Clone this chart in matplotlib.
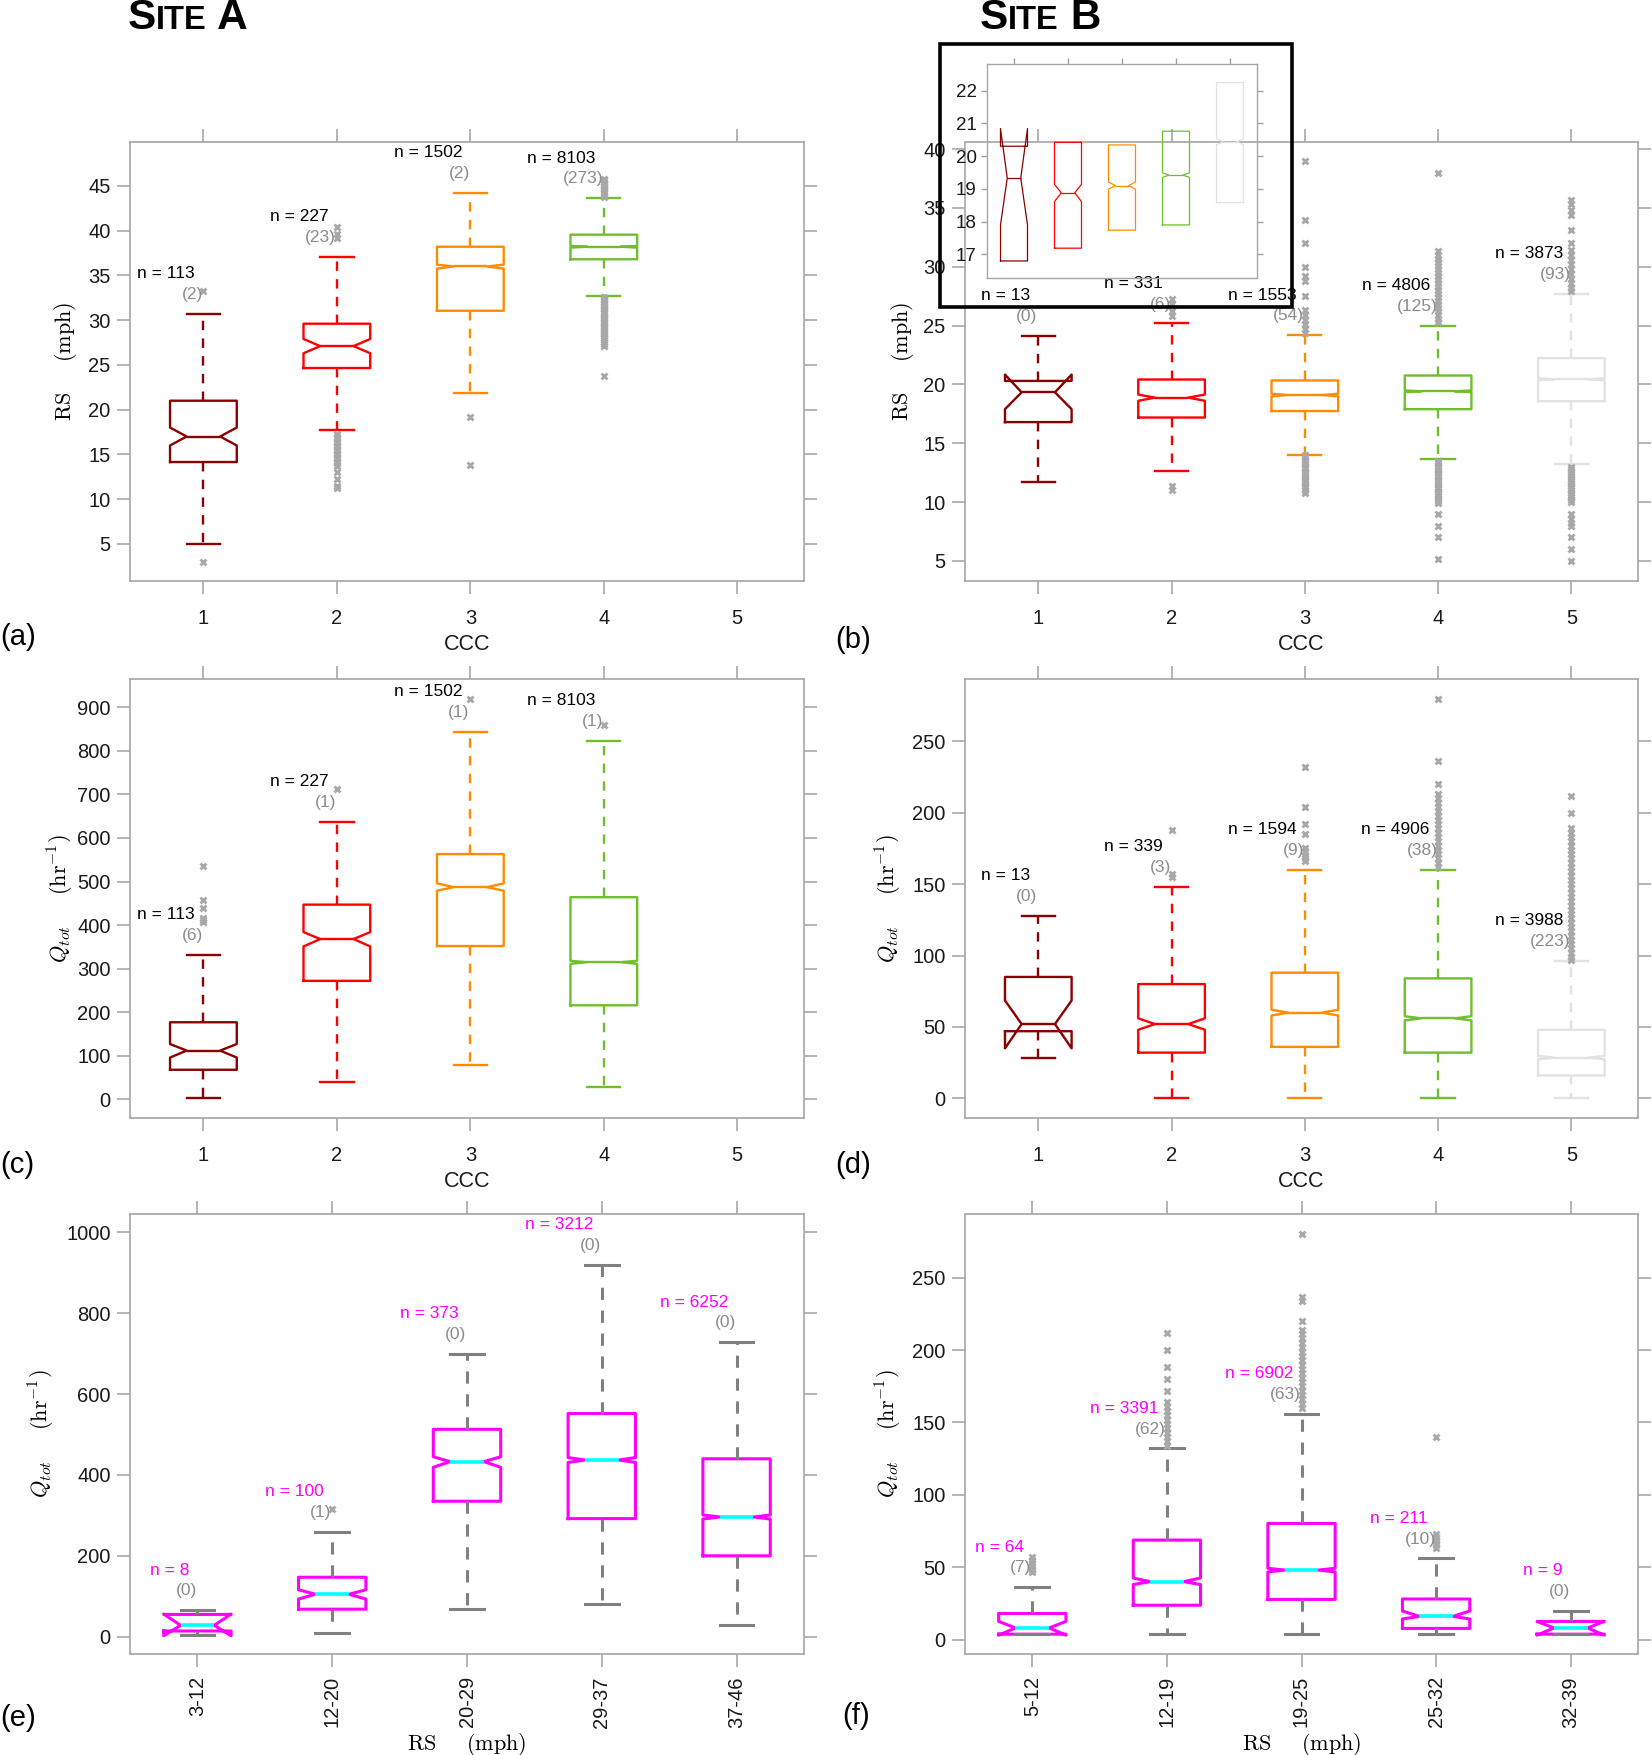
import matplotlib
matplotlib.use('Agg')
import matplotlib.pyplot as plt
from matplotlib.patches import Rectangle
from matplotlib.offsetbox import TextArea, HPacker, AnchoredOffsetbox

plt.rcParams['font.family'] = ['Liberation Sans', 'DejaVu Sans']
plt.rcParams['mathtext.fontset'] = 'cm'

ccc = [1, 2, 3, 4, 5]
ccc_colors = ['#8b0000', '#ff0000', '#ff8c00', '#6fbe2e', '#e2e2e2']

# (a) site A, RS by CCC
a_n = [113, 227, 1502, 8103]
a_nout = [2, 23, 2, 273]
a_whislo = [5.0, 17.7, 21.9, 32.7]
a_q1 = [14.15, 24.65, 31.05, 36.8]
a_cilo = [16.0, 26.3, 35.75, 38.1]
a_med = [17.0, 27.1, 36.0, 38.2]
a_cihi = [18.0, 27.9, 36.2, 38.3]
a_q3 = [21.0, 29.6, 38.2, 39.55]
a_whishi = [30.7, 37.05, 44.25, 43.6]
a_out = [
    [33.2, 3.0],
    [40.4, 39.6, 39.2, 17.3, 17.0, 16.7, 16.4, 16.1, 15.8, 15.5, 15.2, 14.9,
     14.6, 14.3, 14.0, 13.7, 13.0, 12.2, 11.5, 11.2],
    [19.2, 13.8],
    [45.8, 45.6, 45.4, 45.2, 45.0, 44.8, 44.6, 44.4, 44.2, 44.0, 43.8,
     32.6, 32.4, 32.2, 32.0, 31.8, 31.6, 31.4, 31.2, 31.0, 30.8, 30.6, 30.4,
     30.2, 30.0, 29.8, 29.6, 29.4, 29.2, 29.0, 28.8, 28.6, 28.4, 28.2, 28.0,
     27.8, 27.6, 27.3, 27.1, 23.8],
]

# (b) site B, RS by CCC (the inset zooms on the same boxes)
b_n = [13, 331, 1553, 4806, 3873]
b_nout = [0, 6, 54, 125, 93]
b_whislo = [11.7, 12.63, 14.03, 13.67, 13.2]
b_q1 = [16.8, 17.19, 17.74, 17.9, 18.58]
b_cilo = [17.9, 18.61, 18.99, 19.35, 20.35]
b_med = [19.33, 18.88, 19.1, 19.42, 20.44]
b_cihi = [20.84, 19.14, 19.21, 19.49, 20.53]
b_q3 = [20.3, 20.42, 20.34, 20.76, 22.24]
b_whishi = [24.1, 25.18, 24.17, 25.0, 27.7]
b_out = [
    [],
    [27.3, 26.8, 26.2, 25.8, 11.4, 11.0],
    [39.0, 34.0, 32.0, 30.0, 29.2, 28.8, 27.5, 26.3, 25.9, 25.5, 25.1, 24.7,
     24.4, 14.0, 13.8, 13.6, 13.4, 13.2, 13.0, 12.8, 12.6, 12.4, 12.2, 12.0,
     11.8, 11.6, 11.4, 11.2, 11.0, 10.8],
    [38.0, 31.3, 31.0, 30.7, 30.4, 30.1, 29.8, 29.5, 29.2, 28.9, 28.6, 28.3,
     28.0, 27.7, 27.4, 27.1, 26.8, 26.5, 26.2, 25.9, 25.6, 25.3, 13.5, 13.3,
     13.1, 12.9, 12.7, 12.5, 12.3, 12.1, 11.9, 11.7, 11.5, 11.3, 11.1, 10.9,
     10.7, 10.5, 10.3, 10.1, 9.9, 9.0, 8.0, 7.0, 5.2],
    [35.7, 35.3, 34.8, 34.4, 33.1, 32.0, 31.4, 31.0, 30.6, 30.2, 29.8, 29.4,
     29.0, 28.6, 28.2, 27.9, 13.0, 12.8, 12.6, 12.4, 12.2, 12.0, 11.8, 11.6,
     11.4, 11.2, 11.0, 10.8, 10.6, 10.4, 10.2, 10.0, 9.0, 8.6, 8.2, 8.0, 7.0,
     6.0, 5.0],
]

# (c) site A, Qtot by CCC
c_n = [113, 227, 1502, 8103]
c_nout = [6, 1, 1, 1]
c_whislo = [4, 40, 80, 28]
c_q1 = [68, 272, 352, 216]
c_cilo = [96, 351, 479, 311]
c_med = [112, 368, 487, 315]
c_cihi = [127, 384, 496, 318]
c_q3 = [177, 447, 563, 464]
c_whishi = [332, 636, 843, 823]
c_out = [[536, 458, 440, 416, 411, 406], [712], [920], [860]]

# (d) site B, Qtot by CCC
d_n = [13, 339, 1594, 4906, 3988]
d_nout = [0, 3, 9, 38, 223]
d_whislo = [28, 0, 0, 0, 0]
d_q1 = [47, 32, 36, 32, 16]
d_cilo = [35, 48, 58, 54.6, 27.3]
d_med = [52, 52, 60, 56, 28.5]
d_cihi = [68.5, 56, 62, 57.5, 29.7]
d_q3 = [85, 80, 88, 84, 48]
d_whishi = [128, 148, 160, 160, 96]
d_out = [
    [],
    [188, 157, 155],
    [232, 204, 192, 185, 175, 173, 170, 168, 166],
    [280, 236, 220, 213, 210, 207, 204, 201, 198, 195, 192, 189, 186, 183,
     180, 177, 174, 171, 168, 165, 162],
    [212, 200, 189, 186, 183, 180, 177, 174, 171, 168, 165, 162, 159, 156,
     153, 150, 147, 144, 141, 138, 135, 132, 129, 126, 123, 120, 117, 114,
     111, 108, 105, 102, 99, 97],
]

# (e) site A, Qtot by RS bin
e_bins = ['3-12', '12-20', '20-29', '29-37', '37-46']
e_n = [8, 100, 373, 3212, 6252]
e_nout = [0, 1, 0, 0, 0]
e_whislo = [5, 8, 68, 81, 29]
e_q1 = [14, 68, 335, 292, 200]
e_cilo = [2, 93, 419, 431, 291]
e_med = [28, 105, 433, 437, 296]
e_cihi = [56, 116, 445, 443, 301]
e_q3 = [55, 147, 513, 552, 440]
e_whishi = [65, 260, 700, 919, 728]
e_out = [[], [315], [], [], []]

# (f) site B, Qtot by RS bin
f_bins = ['5-12', '12-19', '19-25', '25-32', '32-39']
f_n = [64, 3391, 6902, 211, 9]
f_nout = [7, 62, 63, 10, 0]
f_whislo = [3.7, 3.7, 3.7, 3.7, 3.7]
f_q1 = [3.7, 23.7, 27.7, 7.7, 3.7]
f_cilo = [3.0, 38, 46.7, 14.2, 3.0]
f_med = [8, 40, 48, 16, 8]
f_cihi = [12.5, 42.5, 49.2, 19.7, 12.5]
f_q3 = [18, 68.7, 80.2, 28, 12.5]
f_whishi = [36, 132, 156, 56, 20]
f_out = [
    [57, 55, 53, 51, 49, 48, 47],
    [212, 200, 188, 180, 172, 164, 161, 158, 155, 152, 149, 146, 143, 140,
     137, 134],
    [280, 237, 234, 220, 214, 211, 208, 205, 202, 199, 196, 193, 190, 187,
     184, 181, 178, 175, 172, 169, 166, 163, 160],
    [140, 73, 71, 69, 67, 65, 63],
    [],
]


def make_stats(whislo, q1, cilo, med, cihi, q3, whishi, out):
    stats = []
    for i in range(len(med)):
        stats.append(dict(whislo=whislo[i], q1=q1[i], cilo=cilo[i], med=med[i],
                          cihi=cihi[i], q3=q3[i], whishi=whishi[i],
                          fliers=out[i]))
    return stats


def draw_boxes(ax, stats, colors, lw=1.7, med_color=None, line_color=None,
               whiskers=True):
    for i, s in enumerate(stats):
        c = colors[i]
        wc = line_color or c
        ax.bxp([s], positions=[i + 1], widths=0.5, capwidths=0.25,
               shownotches=True, manage_ticks=False,
               showcaps=whiskers, showfliers=whiskers,
               boxprops=dict(color=c, lw=lw),
               medianprops=dict(color=med_color or c, lw=lw + 0.4 if med_color else lw),
               whiskerprops=dict(color=wc, lw=lw, visible=whiskers,
                                 linestyle=(0, (4, 3.5))),
               capprops=dict(color=wc, lw=lw),
               flierprops=dict(marker='x', ms=4.5, mew=2, mec='#a8a8a8',
                               linestyle='none'))


def label_counts(ax, whishi, n, nout, ncolor='black'):
    for i in range(len(n)):
        ax.annotate('({})'.format(nout[i]), (i + 1, whishi[i]), xytext=(-0.5, 14),
                    textcoords='offset points', ha='right', va='center',
                    fontsize=12.5, color='#8c8c8c')
        ax.annotate('n = {}'.format(n[i]), (i + 1, whishi[i]), xytext=(-6, 29),
                    textcoords='offset points', ha='right', va='center',
                    fontsize=12.5, color=ncolor)


def style_axes(ax):
    for sp in ax.spines.values():
        sp.set_color('#a6a6a6')
        sp.set_linewidth(1.2)
    ax.tick_params(direction='out', length=9.5, width=1.1, color='#a0a0a0',
                   top=True, right=True, labelsize=14.5, labelcolor='#1a1a1a')
    ax.tick_params(axis='x', pad=11)
    ax.tick_params(axis='y', pad=4.5)


W, H = 1652, 1755
fig = plt.figure(figsize=(W / 100, H / 100), dpi=100)


def add_ax(x0, x1, y0, y1):
    return fig.add_axes([x0 / W, 1 - y1 / H, (x1 - x0) / W, (y1 - y0) / H])


ax_a = add_ax(130, 804, 142, 581)
ax_b = add_ax(965, 1638, 142, 581)
ax_c = add_ax(130, 804, 679, 1118)
ax_d = add_ax(965, 1638, 679, 1118)
ax_e = add_ax(130, 804, 1214, 1654)
ax_f = add_ax(965, 1638, 1214, 1654)

rs_label = r'$\mathrm{RS}\quad\;\;(\mathrm{mph})$'
q_label = r'$Q_{tot}\quad\;\;(\mathrm{hr}^{-1})$'
ylab_size = 16

# (a)
draw_boxes(ax_a, make_stats(a_whislo, a_q1, a_cilo, a_med, a_cihi, a_q3, a_whishi, a_out),
           ccc_colors)
label_counts(ax_a, a_whishi, a_n, a_nout)
ax_a.set_ylim(0.86, 49.9)
ax_a.set_yticks([5, 10, 15, 20, 25, 30, 35, 40, 45])
ax_a.set_ylabel(rs_label, fontsize=ylab_size)
ax_a.yaxis.set_label_coords(-0.075, 0.5)

# (b)
b_stats = make_stats(b_whislo, b_q1, b_cilo, b_med, b_cihi, b_q3, b_whishi, b_out)
draw_boxes(ax_b, b_stats, ccc_colors)
label_counts(ax_b, b_whishi, b_n, b_nout)
ax_b.set_ylim(3.3, 40.6)
ax_b.set_yticks([5, 10, 15, 20, 25, 30, 35, 40])
ax_b.set_ylabel(rs_label, fontsize=ylab_size)
ax_b.yaxis.set_label_coords(-0.073, 0.5)

# (c)
draw_boxes(ax_c, make_stats(c_whislo, c_q1, c_cilo, c_med, c_cihi, c_q3, c_whishi, c_out),
           ccc_colors)
label_counts(ax_c, c_whishi, c_n, c_nout)
ax_c.set_ylim(-42.7, 964.8)
ax_c.set_yticks(range(0, 1000, 100))
ax_c.set_ylabel(q_label, fontsize=ylab_size)
ax_c.yaxis.set_label_coords(-0.08, 0.5)

# (d)
draw_boxes(ax_d, make_stats(d_whislo, d_q1, d_cilo, d_med, d_cihi, d_q3, d_whishi, d_out),
           ccc_colors)
label_counts(ax_d, d_whishi, d_n, d_nout)
ax_d.set_ylim(-13.8, 293.7)
ax_d.set_yticks(range(0, 300, 50))
ax_d.set_ylabel(q_label, fontsize=ylab_size)
ax_d.yaxis.set_label_coords(-0.091, 0.5)

for ax in [ax_a, ax_b, ax_c, ax_d]:
    ax.set_xlim(0.45, 5.5)
    ax.set_xticks(ccc)
    ax.set_xlabel('CCC', fontsize=15.5, color='#1a1a1a')
    ax.xaxis.set_label_coords(0.5, -0.12)
    ax.xaxis.label.set_va('top')
    style_axes(ax)

# (e)
draw_boxes(ax_e, make_stats(e_whislo, e_q1, e_cilo, e_med, e_cihi, e_q3, e_whishi, e_out),
           ['#ff00ff'] * 5, lw=2.2, med_color='#00ffff', line_color='#808080')
label_counts(ax_e, e_whishi, e_n, e_nout, ncolor='#ff00ff')
ax_e.set_ylim(-42.9, 1045.6)
ax_e.set_yticks(range(0, 1001, 200))
ax_e.set_xticks(range(1, 6), e_bins, rotation=90)
ax_e.set_ylabel(q_label, fontsize=ylab_size)
ax_e.yaxis.set_label_coords(-0.109, 0.5)

# (f)
draw_boxes(ax_f, make_stats(f_whislo, f_q1, f_cilo, f_med, f_cihi, f_q3, f_whishi, f_out),
           ['#ff00ff'] * 5, lw=2.2, med_color='#00ffff', line_color='#808080')
label_counts(ax_f, f_whishi, f_n, f_nout, ncolor='#ff00ff')
ax_f.set_ylim(-10, 294)
ax_f.set_yticks(range(0, 300, 50))
ax_f.set_xticks(range(1, 6), f_bins, rotation=90)
ax_f.set_ylabel(q_label, fontsize=ylab_size)
ax_f.yaxis.set_label_coords(-0.091, 0.5)

for ax in [ax_e, ax_f]:
    ax.set_xlim(0.5, 5.5)
    ax.set_xlabel(rs_label, fontsize=16)
    ax.xaxis.set_label_coords(0.5, -0.175)
    ax.xaxis.label.set_va('top')
    style_axes(ax)
    ax.tick_params(axis='x', pad=6.5)

# inset of (b), transparent, boxes only
ax_in = add_ax(987, 1257, 64, 278)
ax_in.patch.set_alpha(0)
draw_boxes(ax_in, b_stats, ccc_colors, lw=0.9, whiskers=False)
ax_in.set_xlim(0.5, 5.5)
ax_in.set_ylim(16.28, 22.81)
ax_in.set_xticks(ccc)
ax_in.set_yticks([17, 18, 19, 20, 21, 22])
for sp in ax_in.spines.values():
    sp.set_color('#a6a6a6')
    sp.set_linewidth(1.0)
ax_in.tick_params(direction='out', length=4.5, width=1.0, color='#a0a0a0',
                  top=True, bottom=False, labelbottom=False, right=True,
                  labelsize=13.5, labelcolor='#1a1a1a', pad=3)
fig.add_artist(Rectangle((940 / W, 1 - 307 / H), 352 / W, 263 / H,
                         transform=fig.transFigure, fill=False,
                         edgecolor='black', lw=2.6))

# panel letters
for lab, x, y in [('(a)', 0, 637), ('(b)', 835, 640), ('(c)', 0, 1165),
                  ('(d)', 835, 1165), ('(e)', 0, 1718), ('(f)', 842, 1716)]:
    fig.text(x / W, 1 - y / H, lab, fontsize=21, ha='left', va='center')

# small-caps site titles
for name, x in [('A', 128), ('B', 980)]:
    pack = HPacker(children=[
        TextArea('S', textprops=dict(fontsize=30.5, fontweight='bold')),
        TextArea('ITE', textprops=dict(fontsize=23.5, fontweight='bold')),
        TextArea(' ' + name, textprops=dict(fontsize=30.5, fontweight='bold')),
    ], align='baseline', pad=0, sep=0)
    box = AnchoredOffsetbox(loc='upper left', child=pack, pad=0, borderpad=0,
                            frameon=False, bbox_to_anchor=(x / W, 1 + 2 / H),
                            bbox_transform=fig.transFigure)
    fig.add_artist(box)

fig.savefig('out.png', dpi=100)
